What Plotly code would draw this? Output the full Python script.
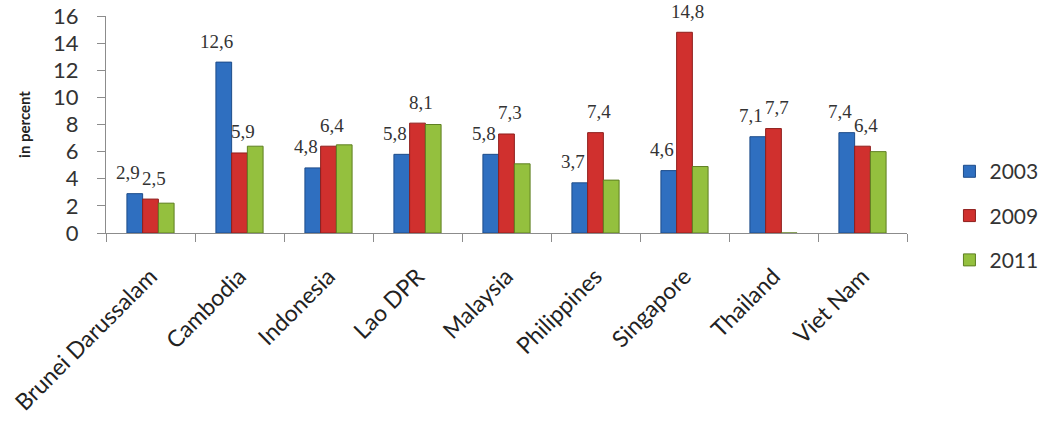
import plotly.graph_objects as go

# Unemployment-style rates by country, in percent
countries = ["Brunei Darussalam", "Cambodia", "Indonesia", "Lao DPR", "Malaysia",
             "Philippines", "Singapore", "Thailand", "Viet Nam"]
years = ["2003", "2009", "2011"]
values_2003 = [2.9, 12.6, 4.8, 5.8, 5.8, 3.7, 4.6, 7.1, 7.4]
values_2009 = [2.5, 5.9, 6.4, 8.1, 7.3, 7.4, 14.8, 7.7, 6.4]
values_2011 = [2.2, 6.4, 6.5, 8.0, 5.1, 3.9, 4.9, 0.0, 6.0]
y_ticks = [0, 2, 4, 6, 8, 10, 12, 14, 16]

series = [values_2003, values_2009, values_2011]
fills = ["#2F6FC0", "#D0302E", "#94C03E"]
edges = ["#1E4C8A", "#8E1E1C", "#5E7F22"]

W, H = 1045, 423
M = dict(l=106, r=138, t=16, b=190, autoexpand=False)
BARGAP = 0.47

fig = go.Figure()
for name, vals, fc, ec in zip(years, series, fills, edges):
    fig.add_trace(go.Bar(
        x=countries, y=vals, name=name, legendgroup=name,
        marker=dict(color=fc, line=dict(color=ec, width=1)),
    ))

# value labels for the 2003 and 2009 series, placed above each bar
cat_px = (W - M["l"] - M["r"]) / len(countries)
bar_px = (1 - BARGAP) * cat_px / 3
label_font = dict(family="Liberation Serif", size=19, color="#333333")
for k, (vals, dx, dy) in enumerate([(values_2003, -7, 21), (values_2009, 3, 21)]):
    for c, v in zip(countries, vals):
        fig.add_annotation(
            x=c, y=v, text=f"{v:.1f}".replace(".", ","), showarrow=False,
            xshift=(k - 1) * bar_px + dx, yshift=dy, yanchor="middle",
            font=label_font,
        )

fig.update_layout(
    width=W, height=H, margin=M,
    paper_bgcolor="white", plot_bgcolor="white",
    barmode="group", bargap=BARGAP, bargroupgap=0,
    font=dict(family="Lato", color="#333333"),
    legend=dict(
        x=1.053, xanchor="left", xref="paper", y=0.08, yanchor="middle",
        font=dict(size=21, family="Lato", color="#333333"),
        traceorder="grouped", tracegroupgap=14,
        itemwidth=30,
    ),
)
fig.update_xaxes(
    automargin=False,
    showline=True, linecolor="#8C8C8C", linewidth=1,
    ticks="outside", tickson="boundaries", ticklen=8, tickcolor="#8C8C8C",
    tickangle=-45, ticklabelstandoff=20,
    tickfont=dict(size=23, family="Lato", color="#222222"),
    showgrid=False,
)
fig.update_yaxes(
    automargin=False,
    range=[0, 16], tickvals=y_ticks,
    showline=True, linecolor="#8C8C8C", linewidth=1,
    ticks="outside", ticklen=8, tickcolor="#8C8C8C", ticklabelstandoff=14,
    tickfont=dict(size=22, family="Lato", color="#333333"),
    showgrid=False, zeroline=False,
    title=dict(text="<b>in percent</b>", font=dict(size=15, family="Lato", color="#222222"),
               standoff=18),
)

fig.write_html("out.html")
